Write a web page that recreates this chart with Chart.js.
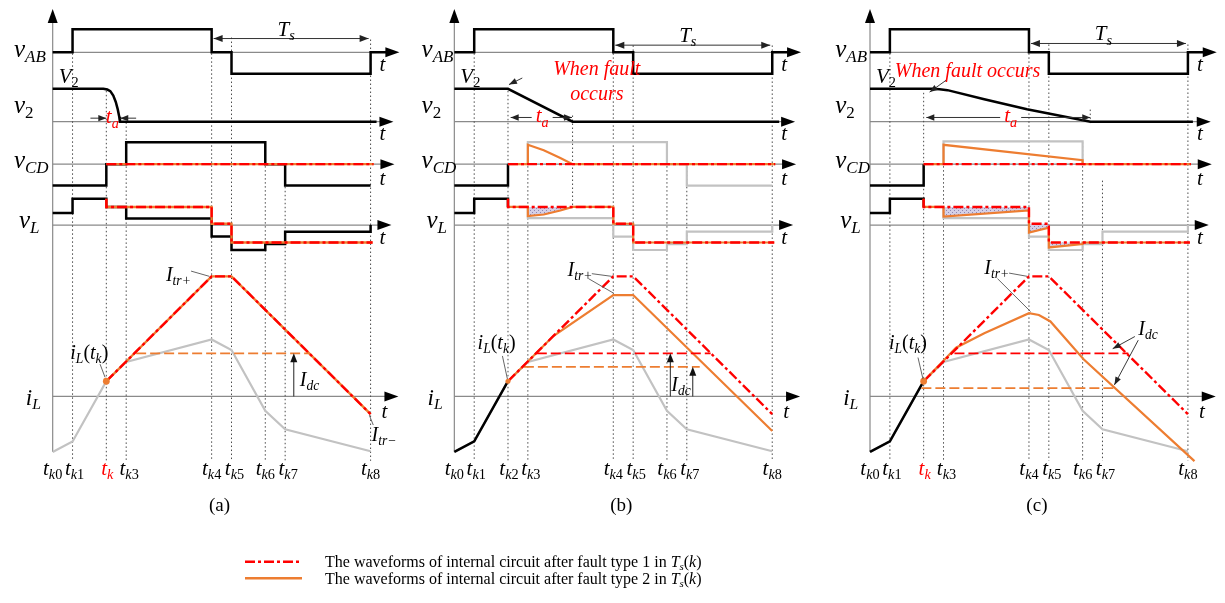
<!DOCTYPE html>
<html>
<head>
<meta charset="utf-8">
<script src="https://cdn.jsdelivr.net/npm/chart.js@4.4.0/dist/chart.umd.min.js"></script>
<style>
  html, body { margin: 0; padding: 0; background: #fff; }
  canvas { display: block; }
</style>
</head>
<body>
<canvas id="wave" width="1225" height="603"></canvas>
<script>
// switching instants over one period, shared by the three panels
const tkTimes = [0, 20, 54, 74, 160, 180, 214, 234, 320];
const tkNamesA = ["k0", "k1", "k", "k3", "k4", "k5", "k6", "k7", "k8"];
const tkNamesB = ["k0", "k1", "k2", "k3", "k4", "k5", "k6", "k7", "k8"];

// waveforms as [time, level] pairs, level measured from each row's zero line
const vAB = [[0, 0], [20, 0], [20, 23.3], [160, 23.3], [160, 0], [180, 0], [180, -21.7], [320, -21.7], [320, 0], [340, 0]];

const v2A = [[0, 33.3], [51, 33.3], [55, 32.6], [58, 31], [61, 26.5], [63.5, 20], [65.5, 12.5], [67, 5], [67.7, 0], [326, 0]];
const v2B = [[0, 33.3], [54, 33.3], [119, 0], [327, 0]];
const v2C = [[0, 33.3], [63, 33.3], [70, 33], [78, 32], [115, 22.7], [158, 12.7], [222, 0], [325, 0]];

const vcdBlackA = [[0, -21.7], [54, -21.7], [54, 0], [74, 0], [74, 22.3], [214, 22.3], [214, 0], [234, 0], [234, -21.7], [320, -21.7]];
const vcdBlackBC = [[0, -21.7], [54, -21.7], [54, 0]];
const vcdGrayB = [[74, 0], [74, 22.3], [214, 22.3], [214, 0], [234, 0], [234, -21.7], [320, -21.7]];
const vcdGrayC = [[74, 0], [74, 23], [214, 23], [214, 0]];
const vcdFault1 = [[54, 0], [323, 0]];
const vcdFault2B = [[54, 0], [74, 0], [74, 19.6], [90, 14], [106.7, 6.3], [119, 0], [323, 0]];
const vcdFault2C = [[54, 0], [74, 0], [74, 19.6], [214, 4], [214, 0], [323, 0]];

const vlBlackA = [[0, 12.3], [20, 12.3], [20, 26.7], [54, 26.7], [54, 18.3], [74, 18.3], [74, 6.7], [160, 6.7], [160, -11.7], [180, -11.7], [180, -25.3], [214, -25.3], [214, -19.3], [234, -19.3], [234, -6.7], [320, -6.7], [320, 0]];
const vlBlackBC = [[0, 12.3], [20, 12.3], [20, 26.7], [54, 26.7], [54, 18.3]];
const vlGrayBC = [[74, 18.3], [74, 7], [160, 7], [160, -11.7], [180, -11.7], [180, -25.3], [214, -25.3], [214, -19.3], [234, -19.3], [234, -6.7], [320, -6.7], [320, 0]];
const vlFault1 = [[54, 26.7], [54, 18.3], [160, 18.3], [160, 1.3], [180, 1.3], [180, -17.7], [322, -17.7]];
const vlFault2B = [[54, 26.7], [54, 18.3], [74, 18.3], [74, 9], [90, 10.7], [106.7, 14.7], [119, 18.3], [160, 18.3], [160, 1.3], [180, 1.3], [180, -17.7], [322, -17.7]];
const vlFault2C = [[54, 26.7], [54, 18.3], [74, 18.3], [74, 8.5], [160, 14.7], [160, -7.7], [180, -2.7], [180, -22.7], [214, -19.3], [214, -17.7], [322, -17.7]];
// volt-second differences between the two fault types
const vlAreaB = [[[74, 18.3], [74, 9], [90, 10.7], [106.7, 14.7], [119, 18.3]]];
const vlAreaC = [
  [[74, 18.3], [74, 8.5], [160, 14.7], [160, 18.3]],
  [[160, 1.3], [160, -7.7], [180, -2.7], [180, 1.3]],
  [[180, -17.7], [180, -22.7], [214, -19.3], [214, -17.7]]
];

const iLNormal = [[0, -56.3], [20, -45.6], [54, 15.4], [74, 35], [160, 57.7], [180, 47], [214, -14.6], [234, -33.3], [320, -55.6]];
const iLBefore = [[0, -56.3], [20, -45.6], [54, 15.4]];
const iLFault1 = [[54, 15.4], [160, 121.7], [180, 121.7], [320, -18]];
const iLFault2B = [[54, 15.4], [100, 61.4], [160, 102.7], [180, 102.7], [320, -35]];
const iLFault2C = [[54, 15.4], [86.6, 49.4], [115, 64], [160, 84.4], [170, 82.5], [181.6, 76], [215, 37.7], [326.6, -65.6]];

// dc current levels
const idcA2 = [[84, 43.7], [258, 43.7]];
const idcB1 = [[83, 43.7], [258, 43.7]];
const idcB2 = [[70, 30], [247, 30]];
const idcC1 = [[85, 43.7], [260, 43.7]];
const idcC2 = [[51.7, 8.4], [245, 8.4]];

// layout
const panelX0 = [49, 453.3, 871.7];
const rowBase = { vAB: 49, v2: 119.3, vCD: 162.3, vL: 224, iL: 397.7 };
const axisEnd = { vAB: 349, v2: 343, vCD: 344, vL: 341, iL: 348 };
const dotTop = [
  [null, 50, 88, 120, 50, 34, 140, 165, 36],
  [null, 50, 88, 140, 50, 42, 140, 165, 42],
  [null, 50, 90, 140, 50, 41, 140, 179, 41]
];
const dotBottom = 463;

const FAMILY = '"Liberation Serif", "Times New Roman", Times, serif';
const RED = "#ff0000", ORANGE = "#ed7d31", GRAY = "#c2c2c2", BLACK = "#000000", AXIS = "#8a8a8a";
const DASHDOT = [10, 3, 3, 3];
const DASHED = [10, 4];

function pts(list, p, row) {
  return list.map(([t, v]) => ({ x: panelX0[p] + t, y: rowBase[row] - v }));
}

function hatch() {
  const c = document.createElement("canvas");
  c.width = 4; c.height = 4;
  const g = c.getContext("2d");
  g.fillStyle = "#d4cfe6"; g.fillRect(0, 0, 4, 4);
  g.fillStyle = "#8e86b3"; g.fillRect(0, 0, 1, 1); g.fillRect(2, 2, 1, 1);
  return g.createPattern(c, "repeat");
}

const datasets = [];
function trace(list, p, row, color, width, dash, order) {
  datasets.push({
    data: pts(list, p, row), showLine: true, borderColor: color, borderWidth: width,
    borderDash: dash || [], pointRadius: 0, fill: false, tension: 0, order: order,
    borderCapStyle: "butt", borderJoinStyle: "miter"
  });
}
function area(list, p, row, pattern) {
  const closed = list.concat([list[0]]);
  datasets.push({
    data: pts(closed, p, row), showLine: true, borderWidth: 0, borderColor: "rgba(0,0,0,0)",
    backgroundColor: pattern, fill: "shape", pointRadius: 0, tension: 0, order: 12
  });
}

const pattern = hatch();
for (let p = 0; p < 3; p++) {
  trace(vAB, p, "vAB", BLACK, 2.5, null, 6);
  trace([v2A, v2B, v2C][p], p, "v2", BLACK, 2.5, null, 6);

  if (p === 0) {
    trace(vcdBlackA, p, "vCD", BLACK, 2.5, null, 6);
    trace(vlBlackA, p, "vL", BLACK, 2.5, null, 6);
    trace(iLNormal, p, "iL", GRAY, 2.2, null, 8);
    trace(vcdFault1, p, "vCD", ORANGE, 2.4, null, 4);
    trace(vlFault1, p, "vL", ORANGE, 2.4, null, 4);
    trace(iLFault1, p, "iL", ORANGE, 2.4, null, 4);
    trace(idcA2, p, "iL", ORANGE, 1.8, DASHED, 3);
  } else {
    trace(vcdBlackBC, p, "vCD", BLACK, 2.5, null, 6);
    trace(p === 1 ? vcdGrayB : vcdGrayC, p, "vCD", GRAY, 2.2, null, 8);
    trace(vlBlackBC, p, "vL", BLACK, 2.5, null, 6);
    trace(vlGrayBC, p, "vL", GRAY, 2.2, null, 8);
    trace(iLNormal, p, "iL", GRAY, 2.2, null, 8);
    trace(iLBefore, p, "iL", BLACK, 2.5, null, 6);
    (p === 1 ? vlAreaB : vlAreaC).forEach((a) => area(a, p, "vL", pattern));
    trace(p === 1 ? vcdFault2B : vcdFault2C, p, "vCD", ORANGE, 2.2, null, 4);
    trace(p === 1 ? vlFault2B : vlFault2C, p, "vL", ORANGE, 2.2, null, 4);
    trace(p === 1 ? iLFault2B : iLFault2C, p, "iL", ORANGE, 2.2, null, 4);
    trace(p === 1 ? idcB1 : idcC1, p, "iL", RED, 1.8, DASHED, 3);
    trace(p === 1 ? idcB2 : idcC2, p, "iL", ORANGE, 1.8, DASHED, 3);
  }
  trace(vcdFault1, p, "vCD", RED, 2.4, DASHDOT, 2);
  trace(vlFault1, p, "vL", RED, 2.4, DASHDOT, 2);
  trace(iLFault1, p, "iL", RED, 2.4, DASHDOT, 2);
  datasets.push({
    data: pts([iLFault1[0]], p, "iL"), showLine: false, pointRadius: p === 1 ? 2.5 : 3.4,
    pointBackgroundColor: ORANGE, pointBorderWidth: 0, order: 0
  });
}

// ---- text helpers ----
function richWidth(ctx, segs, size) {
  let w = 0;
  segs.forEach(([s, k]) => {
    const sub = k.endsWith("s");
    ctx.font = (k[0] === "i" ? "italic " : "") + (sub ? size * 0.68 : size) + "px " + FAMILY;
    w += ctx.measureText(s).width;
  });
  return w;
}
function rich(ctx, x, y, segs, size, color, align) {
  let cx = x;
  const w = richWidth(ctx, segs, size);
  if (align === "center") cx -= w / 2;
  ctx.fillStyle = color || BLACK;
  ctx.textBaseline = "alphabetic";
  ctx.textAlign = "left";
  segs.forEach(([s, k]) => {
    const sub = k.endsWith("s");
    ctx.font = (k[0] === "i" ? "italic " : "") + (sub ? size * 0.68 : size) + "px " + FAMILY;
    ctx.fillText(s, cx, sub ? y + size * 0.2 : y);
    cx += ctx.measureText(s).width;
  });
  return w;
}
function head(ctx, x, y, ang, len, half, color) {
  ctx.save();
  ctx.translate(x, y);
  ctx.rotate(ang);
  ctx.beginPath();
  ctx.moveTo(0, 0);
  ctx.lineTo(-len, -half);
  ctx.lineTo(-len, half);
  ctx.closePath();
  ctx.fillStyle = color || BLACK;
  ctx.fill();
  ctx.restore();
}
function seg(ctx, x1, y1, x2, y2, color, width, dash) {
  ctx.save();
  ctx.beginPath();
  ctx.setLineDash(dash || []);
  ctx.strokeStyle = color;
  ctx.lineWidth = width;
  ctx.moveTo(x1, y1);
  ctx.lineTo(x2, y2);
  ctx.stroke();
  ctx.restore();
}
function pointer(ctx, x1, y1, x2, y2, color, withHead) {
  seg(ctx, x1, y1, x2, y2, color, 0.9);
  if (withHead) head(ctx, x2, y2, Math.atan2(y2 - y1, x2 - x1), 8, 3, color);
}

const schematic = {
  id: "schematic",
  beforeDatasetsDraw(chart) {
    const ctx = chart.ctx;
    const X = (p, t) => chart.scales.x.getPixelForValue(panelX0[p] + t);
    const Y = (v) => chart.scales.y.getPixelForValue(v);
    for (let p = 0; p < 3; p++) {
      // time axes
      Object.keys(rowBase).forEach((r) => {
        seg(ctx, X(p, 0), Y(rowBase[r]), X(p, axisEnd[r] - 6), Y(rowBase[r]), AXIS, 1.2);
      });
      seg(ctx, X(p, 0), Y(12), X(p, 0), Y(454), AXIS, 1.2);
      // instants
      tkTimes.forEach((t, i) => {
        if (dotTop[p][i] === null) return;
        seg(ctx, X(p, t), Y(dotTop[p][i]), X(p, t), Y(dotBottom), "#4a4a4a", 1, [1.5, 2.5]);
      });
    }
    seg(ctx, X(1, 119), Y(113), X(1, 119), Y(205), "#4a4a4a", 1, [1.5, 2.5]);
    seg(ctx, X(2, 221.7), Y(107), X(2, 221.7), Y(122), "#4a4a4a", 1, [1.5, 2.5]);
  },
  afterDatasetsDraw(chart) {
    const ctx = chart.ctx;
    const X = (p, t) => chart.scales.x.getPixelForValue(panelX0[p] + t);
    const Y = (v) => chart.scales.y.getPixelForValue(v);
    const rowX = [-39, -33, -35];
    const tkShift = [0, 2, 1, 3, 0, 3, 0, 3, 0];
    const arrowY = [35, 41.7, 40];

    for (let p = 0; p < 3; p++) {
      // axis arrowheads
      Object.keys(rowBase).forEach((r) => head(ctx, X(p, axisEnd[r]), Y(rowBase[r]), 0, 14, 5));
      head(ctx, X(p, 0), Y(5), -Math.PI / 2, 14, 5);

      // row names
      rich(ctx, X(p, rowX[p]), Y(53.5), [["v", "i"], ["AB", "is"]], 25);
      rich(ctx, X(p, rowX[p]), Y(110.5), [["v", "i"], ["2", "rs"]], 25);
      rich(ctx, X(p, rowX[p]), Y(166.5), [["v", "i"], ["CD", "is"]], 25);
      rich(ctx, X(p, rowX[p] + 5), Y(227), [["v", "i"], ["L", "is"]], 25);
      rich(ctx, X(p, -27), Y(406), [["i", "i"], ["L", "is"]], 23);
      rich(ctx, X(p, 6), Y(80), [["V", "i"], ["2", "rs"]], 21);
      [68, 138, 183, 243].forEach((y) => rich(ctx, X(p, 332), Y(y), [["t", "i"]], 21, BLACK, "center"));
      rich(ctx, X(p, 334), Y(420), [["t", "i"]], 21, BLACK, "center");

      // instant names
      const names = p === 1 ? tkNamesB : tkNamesA;
      tkTimes.forEach((t, i) => {
        const n = names[i];
        const red = n === "k" ? RED : BLACK;
        const segs = n.length > 1 ? [["t", "i"], ["k", "is"], [n.slice(1), "rs"]] : [["t", "i"], ["k", "is"]];
        rich(ctx, X(p, t + tkShift[i]), Y(477), segs, 21, red, "center");
      });
      rich(ctx, X(p, 168), Y(514), [["(" + "abc"[p] + ")", "r"]], 19, BLACK, "center");

      // period span
      const ay = Y(arrowY[p]);
      seg(ctx, X(p, 162), ay, X(p, 318), ay, "#333", 1);
      head(ctx, X(p, 162), ay, Math.PI, 9, 3.5, "#222");
      head(ctx, X(p, 318), ay, 0, 9, 3.5, "#222");
      rich(ctx, X(p, 235), ay - 3, [["T", "i"], ["s", "is"]], 21, BLACK, "center");

      // peak current pointer names
      rich(ctx, X(p, p === 2 ? 115 : 114), Y([281, 276, 274][p]), [["I", "i"], ["tr+", "is"]], 20);
      rich(ctx, X(p, [17.7, 23.4, 19][p]), Y([360, 350, 350][p]), [["i", "i"], ["L", "is"], ["(", "r"], ["t", "i"], ["k", "is"], [")", "r"]], 20);
    }

    // fault duration marks
    const lineCol = "#333";
    seg(ctx, X(0, 38), Y(115.7), X(0, 54), Y(115.7), lineCol, 1);
    head(ctx, X(0, 54), Y(115.7), 0, 8, 3.2, "#222");
    seg(ctx, X(0, 84), Y(115.7), X(0, 68), Y(115.7), lineCol, 1);
    head(ctx, X(0, 68), Y(115.7), Math.PI, 8, 3.2, "#222");
    rich(ctx, X(0, 60), Y(121), [["t", "i"], ["a", "is"]], 21, RED, "center");

    [[1, 56.7, 118.4, 88.4], [2, 56.7, 221.7, 141.6]].forEach(([p, a, b, c]) => {
      const y = Y(115);
      const w = richWidth(ctx, [["t", "i"], ["a", "is"]], 21) + 8;
      seg(ctx, X(p, a), y, X(p, c) - w / 2, y, lineCol, 1);
      seg(ctx, X(p, c) + w / 2, y, X(p, b), y, lineCol, 1);
      head(ctx, X(p, a), y, Math.PI, 8, 3.2, "#222");
      head(ctx, X(p, b), y, 0, 8, 3.2, "#222");
      rich(ctx, X(p, c), Y(120), [["t", "i"], ["a", "is"]], 21, RED, "center");
    });

    // fault instant notes
    rich(ctx, X(1, 143.4), Y(72), [["When fault", "i"]], 20, RED, "center");
    rich(ctx, X(1, 143.4), Y(97), [["occurs", "i"]], 20, RED, "center");
    pointer(ctx, X(1, 68.4), Y(75), X(1, 55), Y(81.7), "#222", true);
    rich(ctx, X(2, 98.2), Y(74), [["When fault occurs", "i"]], 20, RED, "center");
    pointer(ctx, X(2, 76.6), Y(77.3), X(2, 60), Y(89.3), "#222", true);

    // leaders
    const lead = "#555";
    pointer(ctx, X(0, 139.3), Y(270.7), X(0, 157.7), Y(276), lead);
    pointer(ctx, X(1, 138.4), Y(273.3), X(1, 158.4), Y(276), lead);
    pointer(ctx, X(1, 135), Y(278.3), X(1, 160.7), Y(293.3), lead);
    pointer(ctx, X(2, 140), Y(272.7), X(2, 158.3), Y(276), lead);
    pointer(ctx, X(2, 128.3), Y(278.3), X(2, 161.6), Y(311.7), lead);
    pointer(ctx, X(0, 47.7), Y(365), X(0, 52.7), Y(378.3), lead);
    pointer(ctx, X(1, 48.4), Y(356.7), X(1, 53.4), Y(380), lead);
    pointer(ctx, X(2, 48.3), Y(358.3), X(2, 53.3), Y(380), lead);
    pointer(ctx, X(0, 318.7), Y(416.7), X(0, 322.7), Y(426.7), lead);
    rich(ctx, X(0, 321), Y(443), [["I", "i"], ["tr\u2212", "is"]], 20);

    // dc current marks
    const base = rowBase.iL;
    [[0, 242.7, 43.7], [1, 217.4, 43.7], [1, 240, 30]].forEach(([p, t, v]) => {
      seg(ctx, X(p, t), Y(base), X(p, t), Y(base - v) + 8, "#222", 1);
      head(ctx, X(p, t), Y(base - v), -Math.PI / 2, 9, 3.5, "#111");
    });
    rich(ctx, X(0, 248.7), Y(387), [["I", "i"], ["dc", "is"]], 20);
    rich(ctx, X(1, 218.4), Y(392), [["I", "i"], ["dc", "is"]], 20);
    rich(ctx, X(2, 270), Y(335), [["I", "i"], ["dc", "is"]], 20);
    pointer(ctx, X(2, 266.6), Y(337), X(2, 244.3), Y(349.3), "#222", true);
    pointer(ctx, X(2, 270), Y(340.7), X(2, 246), Y(386), "#222", true);

    // key
    seg(ctx, 245, 561.7, 302, 561.7, RED, 2.5, DASHDOT);
    seg(ctx, 245, 578.3, 302, 578.3, ORANGE, 2.5);
    const tail = [["T", "i"], ["s", "is"], ["(", "r"], ["k", "i"], [")", "r"]];
    rich(ctx, 325, 566.5, [["The waveforms of internal circuit after fault type 1 in ", "r"]].concat(tail), 16);
    rich(ctx, 325, 583.5, [["The waveforms of internal circuit after fault type 2 in ", "r"]].concat(tail), 16);
  }
};

new Chart(document.getElementById("wave"), {
  type: "scatter",
  data: { datasets: datasets },
  options: {
    responsive: false,
    animation: false,
    devicePixelRatio: 1,
    events: [],
    layout: { padding: 0 },
    plugins: { legend: { display: false }, tooltip: { enabled: false } },
    scales: {
      x: { type: "linear", min: 0, max: 1225, display: false },
      y: { type: "linear", min: 0, max: 603, reverse: true, display: false }
    }
  },
  plugins: [schematic]
});
</script>
</body>
</html>
